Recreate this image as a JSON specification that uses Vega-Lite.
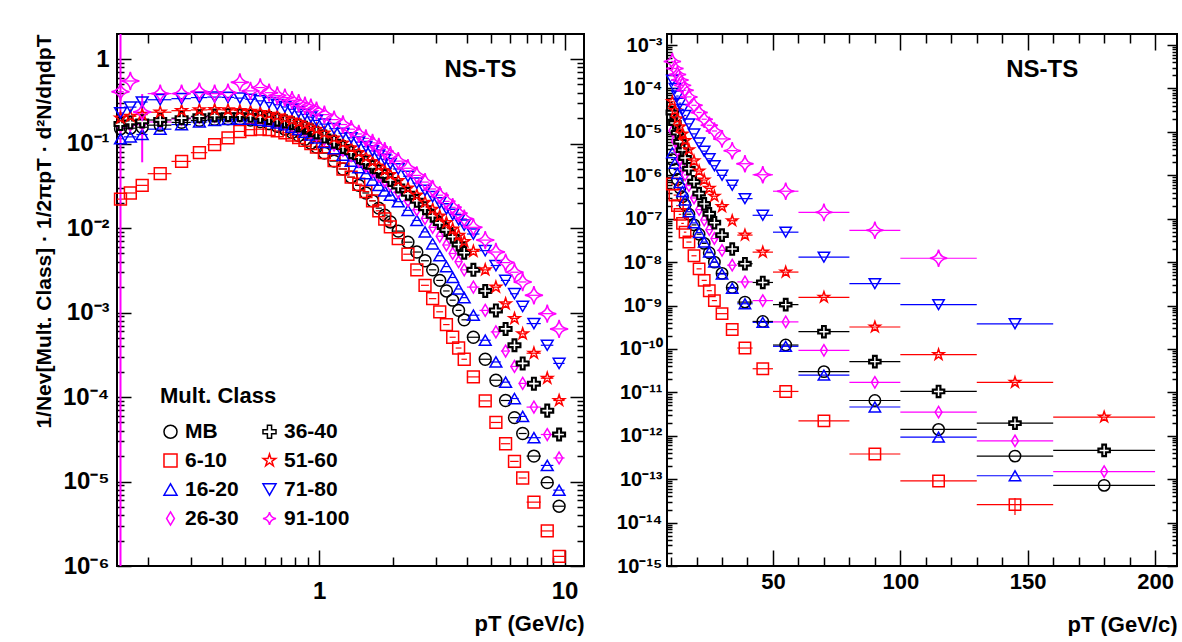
{
"$schema":"https://vega.github.io/schema/vega-lite/v6.json",
"background":"white",
"padding":{"left":32,"top":32,"right":4,"bottom":0},
"config":{
 "view":{"stroke":"black","strokeWidth":2},
 "font":"Liberation Sans",
 "axis":{"domain":false,"grid":false,"tickColor":"black","tickWidth":1.5,"labelColor":"black","titleColor":"black","labelFont":"Liberation Sans","titleFont":"Liberation Sans","labelFontWeight":"bold","titleFontWeight":"bold","labelOverlap":false,"labelFlush":false},
 "legend":{"titleFontSize":22,"titleFont":"Liberation Sans","titleFontWeight":"bold","titleColor":"black","labelFontSize":21,"labelFont":"Liberation Sans","labelFontWeight":"bold","labelColor":"black","symbolSize":170,"symbolStrokeWidth":1.5,"rowPadding":7,"columnPadding":20,"titlePadding":13,"labelOffset":4}
},
"datasets":{
"binsL":[{"x":0.155,"xl":0.15,"xh":0.16},{"x":0.17,"xl":0.16,"xh":0.18},{"x":0.19,"xl":0.18,"xh":0.2},{"x":0.225,"xl":0.2,"xh":0.25},{"x":0.275,"xl":0.25,"xh":0.3},{"x":0.325,"xl":0.3,"xh":0.35},{"x":0.375,"xl":0.35,"xh":0.4},{"x":0.425,"xl":0.4,"xh":0.45},{"x":0.475,"xl":0.45,"xh":0.5},{"x":0.525,"xl":0.5,"xh":0.55},{"x":0.575,"xl":0.55,"xh":0.6},{"x":0.625,"xl":0.6,"xh":0.65},{"x":0.675,"xl":0.65,"xh":0.7},{"x":0.725,"xl":0.7,"xh":0.75},{"x":0.775,"xl":0.75,"xh":0.8},{"x":0.825,"xl":0.8,"xh":0.85},{"x":0.875,"xl":0.85,"xh":0.9},{"x":0.925,"xl":0.9,"xh":0.95},{"x":0.975,"xl":0.95,"xh":1.0},{"x":1.05,"xl":1.0,"xh":1.1},{"x":1.15,"xl":1.1,"xh":1.2},{"x":1.25,"xl":1.2,"xh":1.3},{"x":1.35,"xl":1.3,"xh":1.4},{"x":1.45,"xl":1.4,"xh":1.5},{"x":1.55,"xl":1.5,"xh":1.6},{"x":1.65,"xl":1.6,"xh":1.7},{"x":1.75,"xl":1.7,"xh":1.8},{"x":1.85,"xl":1.8,"xh":1.9},{"x":1.95,"xl":1.9,"xh":2.0},{"x":2.1,"xl":2.0,"xh":2.2},{"x":2.3,"xl":2.2,"xh":2.4},{"x":2.5,"xl":2.4,"xh":2.6},{"x":2.7,"xl":2.6,"xh":2.8},{"x":2.9,"xl":2.8,"xh":3.0},{"x":3.1,"xl":3.0,"xh":3.2},{"x":3.3,"xl":3.2,"xh":3.4},{"x":3.5,"xl":3.4,"xh":3.6},{"x":3.7,"xl":3.6,"xh":3.8},{"x":3.9,"xl":3.8,"xh":4.0},{"x":4.25,"xl":4.0,"xh":4.5},{"x":4.75,"xl":4.5,"xh":5.0},{"x":5.25,"xl":5.0,"xh":5.5},{"x":5.75,"xl":5.5,"xh":6.0},{"x":6.25,"xl":6.0,"xh":6.5},{"x":6.75,"xl":6.5,"xh":7.0},{"x":7.5,"xl":7.0,"xh":8.0},{"x":8.5,"xl":8.0,"xh":9.0},{"x":9.5,"xl":9.0,"xh":10.0}],
"binsR":[{"x":10.5,"xl":10,"xh":11},{"x":11.5,"xl":11,"xh":12},{"x":12.5,"xl":12,"xh":13},{"x":13.5,"xl":13,"xh":14},{"x":14.5,"xl":14,"xh":15},{"x":15.5,"xl":15,"xh":16},{"x":17,"xl":16,"xh":18},{"x":19,"xl":18,"xh":20},{"x":21,"xl":20,"xh":22},{"x":23,"xl":22,"xh":24},{"x":25,"xl":24,"xh":26},{"x":27,"xl":26,"xh":28},{"x":30,"xl":28,"xh":32},{"x":34,"xl":32,"xh":36},{"x":39,"xl":36,"xh":42},{"x":46,"xl":42,"xh":50},{"x":55,"xl":50,"xh":60},{"x":70,"xl":60,"xh":80},{"x":90,"xl":80,"xh":100},{"x":115,"xl":100,"xh":130},{"x":145,"xl":130,"xh":160},{"x":180,"xl":160,"xh":200}],
"errL":[{"s":"91-100","x":0.155,"ylo":0.000001,"yhi":1.98},{"s":"91-100","x":0.19,"ylo":0.06,"yhi":0.385}],
"errR":[{"s":"6-10","x":145,"ylo":1.5e-14,"yhi":3.7e-14}],
"lblL":[{"x":4.54,"y":0.74,"t":"NS-TS"}],
"lblR":[{"x":155.7,"y":0.000265,"t":"NS-TS"}],
"left":[
{"s":"MB","x":0.155,"y":0.150},{"s":"MB","x":0.17,"y":0.152},{"s":"MB","x":0.19,"y":0.156},{"s":"MB","x":0.225,"y":0.165},{"s":"MB","x":0.275,"y":0.178},{"s":"MB","x":0.325,"y":0.188},{"s":"MB","x":0.375,"y":0.194},{"s":"MB","x":0.425,"y":0.196},{"s":"MB","x":0.475,"y":0.195},{"s":"MB","x":0.525,"y":0.190},{"s":"MB","x":0.575,"y":0.182},{"s":"MB","x":0.625,"y":0.172},{"s":"MB","x":0.675,"y":0.160},{"s":"MB","x":0.725,"y":0.148},{"s":"MB","x":0.775,"y":0.136},{"s":"MB","x":0.825,"y":0.124},{"s":"MB","x":0.875,"y":0.112},{"s":"MB","x":0.925,"y":0.101},{"s":"MB","x":0.975,"y":0.091},{"s":"MB","x":1.05,"y":0.077},{"s":"MB","x":1.15,"y":0.062},{"s":"MB","x":1.25,"y":0.050},{"s":"MB","x":1.35,"y":0.040},{"s":"MB","x":1.45,"y":0.032},{"s":"MB","x":1.55,"y":0.026},{"s":"MB","x":1.65,"y":0.021},{"s":"MB","x":1.75,"y":0.0172},{"s":"MB","x":1.85,"y":0.0142},{"s":"MB","x":1.95,"y":0.0118},{"s":"MB","x":2.1,"y":0.0092},{"s":"MB","x":2.3,"y":0.0068},{"s":"MB","x":2.5,"y":0.0052},{"s":"MB","x":2.7,"y":0.0041},{"s":"MB","x":2.9,"y":0.0032},{"s":"MB","x":3.1,"y":0.0024},{"s":"MB","x":3.3,"y":0.0018},{"s":"MB","x":3.5,"y":0.0014},{"s":"MB","x":3.7,"y":0.00106},{"s":"MB","x":3.9,"y":0.00082},{"s":"MB","x":4.25,"y":0.00051},{"s":"MB","x":4.75,"y":0.00028},{"s":"MB","x":5.25,"y":0.000158},{"s":"MB","x":5.75,"y":0.000091},{"s":"MB","x":6.25,"y":0.000057},{"s":"MB","x":6.75,"y":0.000037},{"s":"MB","x":7.5,"y":0.00002},{"s":"MB","x":8.5,"y":0.0000097},{"s":"MB","x":9.5,"y":0.0000051},
{"s":"6-10","x":0.155,"y":0.022},{"s":"6-10","x":0.17,"y":0.026},{"s":"6-10","x":0.19,"y":0.032},{"s":"6-10","x":0.225,"y":0.044},{"s":"6-10","x":0.275,"y":0.0615},{"s":"6-10","x":0.325,"y":0.078},{"s":"6-10","x":0.375,"y":0.097},{"s":"6-10","x":0.425,"y":0.117},{"s":"6-10","x":0.475,"y":0.139},{"s":"6-10","x":0.525,"y":0.146},{"s":"6-10","x":0.575,"y":0.148},{"s":"6-10","x":0.625,"y":0.146},{"s":"6-10","x":0.675,"y":0.141},{"s":"6-10","x":0.725,"y":0.134},{"s":"6-10","x":0.775,"y":0.126},{"s":"6-10","x":0.825,"y":0.118},{"s":"6-10","x":0.875,"y":0.109},{"s":"6-10","x":0.925,"y":0.100},{"s":"6-10","x":0.975,"y":0.091},{"s":"6-10","x":1.05,"y":0.078},{"s":"6-10","x":1.15,"y":0.063},{"s":"6-10","x":1.25,"y":0.050},{"s":"6-10","x":1.35,"y":0.040},{"s":"6-10","x":1.45,"y":0.033},{"s":"6-10","x":1.55,"y":0.027},{"s":"6-10","x":1.65,"y":0.021},{"s":"6-10","x":1.75,"y":0.016},{"s":"6-10","x":1.85,"y":0.0128},{"s":"6-10","x":1.95,"y":0.0103},{"s":"6-10","x":2.1,"y":0.0075},{"s":"6-10","x":2.3,"y":0.0049},{"s":"6-10","x":2.5,"y":0.0032},{"s":"6-10","x":2.7,"y":0.0021},{"s":"6-10","x":2.9,"y":0.00146},{"s":"6-10","x":3.1,"y":0.00102},{"s":"6-10","x":3.3,"y":0.00072},{"s":"6-10","x":3.5,"y":0.00051},{"s":"6-10","x":3.7,"y":0.00038},{"s":"6-10","x":3.9,"y":0.00028},{"s":"6-10","x":4.25,"y":0.000173},{"s":"6-10","x":4.75,"y":0.00009},{"s":"6-10","x":5.25,"y":0.00005},{"s":"6-10","x":5.75,"y":0.000028},{"s":"6-10","x":6.25,"y":0.0000173},{"s":"6-10","x":6.75,"y":0.000011},{"s":"6-10","x":7.5,"y":0.0000057},{"s":"6-10","x":8.5,"y":0.0000026},{"s":"6-10","x":9.5,"y":0.0000013},
{"s":"16-20","x":0.155,"y":0.114},{"s":"16-20","x":0.17,"y":0.120},{"s":"16-20","x":0.19,"y":0.128},{"s":"16-20","x":0.225,"y":0.148},{"s":"16-20","x":0.275,"y":0.168},{"s":"16-20","x":0.325,"y":0.180},{"s":"16-20","x":0.375,"y":0.188},{"s":"16-20","x":0.425,"y":0.193},{"s":"16-20","x":0.475,"y":0.195},{"s":"16-20","x":0.525,"y":0.194},{"s":"16-20","x":0.575,"y":0.190},{"s":"16-20","x":0.625,"y":0.184},{"s":"16-20","x":0.675,"y":0.176},{"s":"16-20","x":0.725,"y":0.167},{"s":"16-20","x":0.775,"y":0.157},{"s":"16-20","x":0.825,"y":0.147},{"s":"16-20","x":0.875,"y":0.137},{"s":"16-20","x":0.925,"y":0.127},{"s":"16-20","x":0.975,"y":0.117},{"s":"16-20","x":1.05,"y":0.103},{"s":"16-20","x":1.15,"y":0.087},{"s":"16-20","x":1.25,"y":0.073},{"s":"16-20","x":1.35,"y":0.062},{"s":"16-20","x":1.45,"y":0.052},{"s":"16-20","x":1.55,"y":0.044},{"s":"16-20","x":1.65,"y":0.037},{"s":"16-20","x":1.75,"y":0.032},{"s":"16-20","x":1.85,"y":0.0275},{"s":"16-20","x":1.95,"y":0.0245},{"s":"16-20","x":2.1,"y":0.0205},{"s":"16-20","x":2.3,"y":0.0162},{"s":"16-20","x":2.5,"y":0.0123},{"s":"16-20","x":2.7,"y":0.009},{"s":"16-20","x":2.9,"y":0.0065},{"s":"16-20","x":3.1,"y":0.0047},{"s":"16-20","x":3.3,"y":0.0035},{"s":"16-20","x":3.5,"y":0.0026},{"s":"16-20","x":3.7,"y":0.0019},{"s":"16-20","x":3.9,"y":0.0015},{"s":"16-20","x":4.25,"y":0.00093},{"s":"16-20","x":4.75,"y":0.00047},{"s":"16-20","x":5.25,"y":0.00026},{"s":"16-20","x":5.75,"y":0.00015},{"s":"16-20","x":6.25,"y":0.000096},{"s":"16-20","x":6.75,"y":0.000059},{"s":"16-20","x":7.5,"y":0.000033},{"s":"16-20","x":8.5,"y":0.0000155},{"s":"16-20","x":9.5,"y":0.0000079},
{"s":"26-30","x":0.155,"y":0.160},{"s":"26-30","x":0.17,"y":0.165},{"s":"26-30","x":0.19,"y":0.170},{"s":"26-30","x":0.225,"y":0.180},{"s":"26-30","x":0.275,"y":0.195},{"s":"26-30","x":0.325,"y":0.205},{"s":"26-30","x":0.375,"y":0.210},{"s":"26-30","x":0.425,"y":0.212},{"s":"26-30","x":0.475,"y":0.211},{"s":"26-30","x":0.525,"y":0.207},{"s":"26-30","x":0.575,"y":0.201},{"s":"26-30","x":0.625,"y":0.194},{"s":"26-30","x":0.675,"y":0.185},{"s":"26-30","x":0.725,"y":0.176},{"s":"26-30","x":0.775,"y":0.166},{"s":"26-30","x":0.825,"y":0.156},{"s":"26-30","x":0.875,"y":0.146},{"s":"26-30","x":0.925,"y":0.136},{"s":"26-30","x":0.975,"y":0.126},{"s":"26-30","x":1.05,"y":0.112},{"s":"26-30","x":1.15,"y":0.096},{"s":"26-30","x":1.25,"y":0.083},{"s":"26-30","x":1.35,"y":0.072},{"s":"26-30","x":1.45,"y":0.062},{"s":"26-30","x":1.55,"y":0.054},{"s":"26-30","x":1.65,"y":0.047},{"s":"26-30","x":1.75,"y":0.041},{"s":"26-30","x":1.85,"y":0.036},{"s":"26-30","x":1.95,"y":0.032},{"s":"26-30","x":2.1,"y":0.0265},{"s":"26-30","x":2.3,"y":0.021},{"s":"26-30","x":2.5,"y":0.0165},{"s":"26-30","x":2.7,"y":0.013},{"s":"26-30","x":2.9,"y":0.0102},{"s":"26-30","x":3.1,"y":0.008},{"s":"26-30","x":3.3,"y":0.0063},{"s":"26-30","x":3.5,"y":0.005},{"s":"26-30","x":3.7,"y":0.004},{"s":"26-30","x":3.9,"y":0.0032},{"s":"26-30","x":4.25,"y":0.002},{"s":"26-30","x":4.75,"y":0.00106},{"s":"26-30","x":5.25,"y":0.00059},{"s":"26-30","x":5.75,"y":0.00035},{"s":"26-30","x":6.25,"y":0.00023},{"s":"26-30","x":6.75,"y":0.000145},{"s":"26-30","x":7.5,"y":0.000076},{"s":"26-30","x":8.5,"y":0.000036},{"s":"26-30","x":9.5,"y":0.000019},
{"s":"36-40","x":0.155,"y":0.170},{"s":"36-40","x":0.17,"y":0.178},{"s":"36-40","x":0.19,"y":0.183},{"s":"36-40","x":0.225,"y":0.190},{"s":"36-40","x":0.275,"y":0.200},{"s":"36-40","x":0.325,"y":0.210},{"s":"36-40","x":0.375,"y":0.215},{"s":"36-40","x":0.425,"y":0.217},{"s":"36-40","x":0.475,"y":0.216},{"s":"36-40","x":0.525,"y":0.213},{"s":"36-40","x":0.575,"y":0.207},{"s":"36-40","x":0.625,"y":0.200},{"s":"36-40","x":0.675,"y":0.192},{"s":"36-40","x":0.725,"y":0.183},{"s":"36-40","x":0.775,"y":0.174},{"s":"36-40","x":0.825,"y":0.164},{"s":"36-40","x":0.875,"y":0.154},{"s":"36-40","x":0.925,"y":0.144},{"s":"36-40","x":0.975,"y":0.135},{"s":"36-40","x":1.05,"y":0.121},{"s":"36-40","x":1.15,"y":0.105},{"s":"36-40","x":1.25,"y":0.091},{"s":"36-40","x":1.35,"y":0.079},{"s":"36-40","x":1.45,"y":0.069},{"s":"36-40","x":1.55,"y":0.060},{"s":"36-40","x":1.65,"y":0.053},{"s":"36-40","x":1.75,"y":0.047},{"s":"36-40","x":1.85,"y":0.0415},{"s":"36-40","x":1.95,"y":0.037},{"s":"36-40","x":2.1,"y":0.031},{"s":"36-40","x":2.3,"y":0.0255},{"s":"36-40","x":2.5,"y":0.021},{"s":"36-40","x":2.7,"y":0.0172},{"s":"36-40","x":2.9,"y":0.014},{"s":"36-40","x":3.1,"y":0.0115},{"s":"36-40","x":3.3,"y":0.0095},{"s":"36-40","x":3.5,"y":0.0079},{"s":"36-40","x":3.7,"y":0.0064},{"s":"36-40","x":3.9,"y":0.0051},{"s":"36-40","x":4.25,"y":0.0032},{"s":"36-40","x":4.75,"y":0.0018},{"s":"36-40","x":5.25,"y":0.00106},{"s":"36-40","x":5.75,"y":0.00064},{"s":"36-40","x":6.25,"y":0.00041},{"s":"36-40","x":6.75,"y":0.00025},{"s":"36-40","x":7.5,"y":0.000144},{"s":"36-40","x":8.5,"y":0.000069},{"s":"36-40","x":9.5,"y":0.000036},
{"s":"51-60","x":0.155,"y":0.200},{"s":"51-60","x":0.17,"y":0.210},{"s":"51-60","x":0.19,"y":0.220},{"s":"51-60","x":0.225,"y":0.235},{"s":"51-60","x":0.275,"y":0.245},{"s":"51-60","x":0.325,"y":0.250},{"s":"51-60","x":0.375,"y":0.252},{"s":"51-60","x":0.425,"y":0.250},{"s":"51-60","x":0.475,"y":0.246},{"s":"51-60","x":0.525,"y":0.240},{"s":"51-60","x":0.575,"y":0.232},{"s":"51-60","x":0.625,"y":0.222},{"s":"51-60","x":0.675,"y":0.211},{"s":"51-60","x":0.725,"y":0.200},{"s":"51-60","x":0.775,"y":0.189},{"s":"51-60","x":0.825,"y":0.178},{"s":"51-60","x":0.875,"y":0.167},{"s":"51-60","x":0.925,"y":0.157},{"s":"51-60","x":0.975,"y":0.147},{"s":"51-60","x":1.05,"y":0.133},{"s":"51-60","x":1.15,"y":0.116},{"s":"51-60","x":1.25,"y":0.101},{"s":"51-60","x":1.35,"y":0.089},{"s":"51-60","x":1.45,"y":0.078},{"s":"51-60","x":1.55,"y":0.069},{"s":"51-60","x":1.65,"y":0.061},{"s":"51-60","x":1.75,"y":0.054},{"s":"51-60","x":1.85,"y":0.048},{"s":"51-60","x":1.95,"y":0.043},{"s":"51-60","x":2.1,"y":0.0365},{"s":"51-60","x":2.3,"y":0.0298},{"s":"51-60","x":2.5,"y":0.0245},{"s":"51-60","x":2.7,"y":0.0202},{"s":"51-60","x":2.9,"y":0.0167},{"s":"51-60","x":3.1,"y":0.0139},{"s":"51-60","x":3.3,"y":0.0116},{"s":"51-60","x":3.5,"y":0.0097},{"s":"51-60","x":3.7,"y":0.0082},{"s":"51-60","x":3.9,"y":0.0069},{"s":"51-60","x":4.25,"y":0.0053},{"s":"51-60","x":4.75,"y":0.0032},{"s":"51-60","x":5.25,"y":0.002},{"s":"51-60","x":5.75,"y":0.00127},{"s":"51-60","x":6.25,"y":0.00085},{"s":"51-60","x":6.75,"y":0.00056},{"s":"51-60","x":7.5,"y":0.00033},{"s":"51-60","x":8.5,"y":0.000167},{"s":"51-60","x":9.5,"y":0.000091},
{"s":"71-80","x":0.155,"y":0.230},{"s":"71-80","x":0.17,"y":0.270},{"s":"71-80","x":0.19,"y":0.310},{"s":"71-80","x":0.225,"y":0.330},{"s":"71-80","x":0.275,"y":0.340},{"s":"71-80","x":0.325,"y":0.350},{"s":"71-80","x":0.375,"y":0.355},{"s":"71-80","x":0.425,"y":0.352},{"s":"71-80","x":0.475,"y":0.345},{"s":"71-80","x":0.525,"y":0.334},{"s":"71-80","x":0.575,"y":0.320},{"s":"71-80","x":0.625,"y":0.305},{"s":"71-80","x":0.675,"y":0.288},{"s":"71-80","x":0.725,"y":0.271},{"s":"71-80","x":0.775,"y":0.254},{"s":"71-80","x":0.825,"y":0.237},{"s":"71-80","x":0.875,"y":0.221},{"s":"71-80","x":0.925,"y":0.206},{"s":"71-80","x":0.975,"y":0.188},{"s":"71-80","x":1.05,"y":0.170},{"s":"71-80","x":1.15,"y":0.150},{"s":"71-80","x":1.25,"y":0.132},{"s":"71-80","x":1.35,"y":0.117},{"s":"71-80","x":1.45,"y":0.104},{"s":"71-80","x":1.55,"y":0.092},{"s":"71-80","x":1.65,"y":0.082},{"s":"71-80","x":1.75,"y":0.073},{"s":"71-80","x":1.85,"y":0.065},{"s":"71-80","x":1.95,"y":0.058},{"s":"71-80","x":2.1,"y":0.050},{"s":"71-80","x":2.3,"y":0.041},{"s":"71-80","x":2.5,"y":0.034},{"s":"71-80","x":2.7,"y":0.028},{"s":"71-80","x":2.9,"y":0.0235},{"s":"71-80","x":3.1,"y":0.0198},{"s":"71-80","x":3.3,"y":0.0169},{"s":"71-80","x":3.5,"y":0.0145},{"s":"71-80","x":3.7,"y":0.0125},{"s":"71-80","x":3.9,"y":0.0108},{"s":"71-80","x":4.25,"y":0.0085},{"s":"71-80","x":4.75,"y":0.0054},{"s":"71-80","x":5.25,"y":0.0036},{"s":"71-80","x":5.75,"y":0.0024},{"s":"71-80","x":6.25,"y":0.00167},{"s":"71-80","x":6.75,"y":0.00118},{"s":"71-80","x":7.5,"y":0.00074},{"s":"71-80","x":8.5,"y":0.00041},{"s":"71-80","x":9.5,"y":0.00025},
{"s":"91-100","x":0.155,"y":0.41},{"s":"91-100","x":0.17,"y":0.55},{"s":"91-100","x":0.19,"y":0.236},{"s":"91-100","x":0.225,"y":0.39},{"s":"91-100","x":0.275,"y":0.39},{"s":"91-100","x":0.325,"y":0.41},{"s":"91-100","x":0.375,"y":0.39},{"s":"91-100","x":0.425,"y":0.40},{"s":"91-100","x":0.475,"y":0.53},{"s":"91-100","x":0.525,"y":0.42},{"s":"91-100","x":0.575,"y":0.46},{"s":"91-100","x":0.625,"y":0.40},{"s":"91-100","x":0.675,"y":0.37},{"s":"91-100","x":0.725,"y":0.35},{"s":"91-100","x":0.775,"y":0.325},{"s":"91-100","x":0.825,"y":0.30},{"s":"91-100","x":0.875,"y":0.28},{"s":"91-100","x":0.925,"y":0.265},{"s":"91-100","x":0.975,"y":0.245},{"s":"91-100","x":1.05,"y":0.22},{"s":"91-100","x":1.15,"y":0.192},{"s":"91-100","x":1.25,"y":0.168},{"s":"91-100","x":1.35,"y":0.148},{"s":"91-100","x":1.45,"y":0.13},{"s":"91-100","x":1.55,"y":0.115},{"s":"91-100","x":1.65,"y":0.102},{"s":"91-100","x":1.75,"y":0.091},{"s":"91-100","x":1.85,"y":0.081},{"s":"91-100","x":1.95,"y":0.073},{"s":"91-100","x":2.1,"y":0.062},{"s":"91-100","x":2.3,"y":0.051},{"s":"91-100","x":2.5,"y":0.042},{"s":"91-100","x":2.7,"y":0.035},{"s":"91-100","x":2.9,"y":0.029},{"s":"91-100","x":3.1,"y":0.0245},{"s":"91-100","x":3.3,"y":0.0207},{"s":"91-100","x":3.5,"y":0.0176},{"s":"91-100","x":3.7,"y":0.015},{"s":"91-100","x":3.9,"y":0.0129},{"s":"91-100","x":4.25,"y":0.0102},{"s":"91-100","x":4.75,"y":0.0072},{"s":"91-100","x":5.25,"y":0.0052},{"s":"91-100","x":5.75,"y":0.0039},{"s":"91-100","x":6.25,"y":0.003},{"s":"91-100","x":6.75,"y":0.0023},{"s":"91-100","x":7.5,"y":0.0016},{"s":"91-100","x":8.5,"y":0.00097},{"s":"91-100","x":9.5,"y":0.00064}
],
"right":[
{"s":"MB","x":10.5,"y":2.3e-6},{"s":"MB","x":11.5,"y":1.35e-6},{"s":"MB","x":12.5,"y":8.0e-7},{"s":"MB","x":13.5,"y":5.1e-7},{"s":"MB","x":14.5,"y":3.2e-7},{"s":"MB","x":15.5,"y":2.1e-7},{"s":"MB","x":17,"y":1.27e-7},{"s":"MB","x":19,"y":7.2e-8},{"s":"MB","x":21,"y":4.4e-8},{"s":"MB","x":23,"y":2.7e-8},{"s":"MB","x":25,"y":1.65e-8},{"s":"MB","x":27,"y":1.0e-8},{"s":"MB","x":30,"y":5.5e-9},{"s":"MB","x":34,"y":2.6e-9},{"s":"MB","x":39,"y":1.2e-9},{"s":"MB","x":46,"y":4.3e-10},{"s":"MB","x":55,"y":1.23e-10},{"s":"MB","x":70,"y":3.0e-11},{"s":"MB","x":90,"y":6.5e-12},{"s":"MB","x":115,"y":1.4e-12},{"s":"MB","x":145,"y":3.4e-13},{"s":"MB","x":180,"y":7.2e-14},
{"s":"6-10","x":10.5,"y":6.3e-7},{"s":"6-10","x":11.5,"y":3.5e-7},{"s":"6-10","x":12.5,"y":2.0e-7},{"s":"6-10","x":13.5,"y":1.26e-7},{"s":"6-10","x":14.5,"y":7.8e-8},{"s":"6-10","x":15.5,"y":4.9e-8},{"s":"6-10","x":17,"y":2.9e-8},{"s":"6-10","x":19,"y":1.4e-8},{"s":"6-10","x":21,"y":7.0e-9},{"s":"6-10","x":23,"y":3.8e-9},{"s":"6-10","x":25,"y":2.2e-9},{"s":"6-10","x":27,"y":1.3e-9},{"s":"6-10","x":30,"y":6.5e-10},{"s":"6-10","x":34,"y":2.8e-10},{"s":"6-10","x":39,"y":1.05e-10},{"s":"6-10","x":46,"y":3.5e-11},{"s":"6-10","x":55,"y":1.05e-11},{"s":"6-10","x":70,"y":2.2e-12},{"s":"6-10","x":90,"y":3.8e-13},{"s":"6-10","x":115,"y":9.1e-14},{"s":"6-10","x":145,"y":2.6e-14},
{"s":"16-20","x":10.5,"y":3.3e-6},{"s":"16-20","x":11.5,"y":1.9e-6},{"s":"16-20","x":12.5,"y":1.1e-6},{"s":"16-20","x":13.5,"y":6.8e-7},{"s":"16-20","x":14.5,"y":4.2e-7},{"s":"16-20","x":15.5,"y":2.7e-7},{"s":"16-20","x":17,"y":1.45e-7},{"s":"16-20","x":19,"y":8.0e-8},{"s":"16-20","x":21,"y":4.8e-8},{"s":"16-20","x":23,"y":2.9e-8},{"s":"16-20","x":25,"y":1.7e-8},{"s":"16-20","x":27,"y":1.0e-8},{"s":"16-20","x":30,"y":5.3e-9},{"s":"16-20","x":34,"y":2.5e-9},{"s":"16-20","x":39,"y":1.1e-9},{"s":"16-20","x":46,"y":4.1e-10},{"s":"16-20","x":55,"y":1.15e-10},{"s":"16-20","x":70,"y":2.5e-11},{"s":"16-20","x":90,"y":4.6e-12},{"s":"16-20","x":115,"y":9.3e-13},{"s":"16-20","x":145,"y":1.2e-13},
{"s":"26-30","x":10.5,"y":1.07e-5},{"s":"26-30","x":11.5,"y":6.2e-6},{"s":"26-30","x":12.5,"y":3.7e-6},{"s":"26-30","x":13.5,"y":2.35e-6},{"s":"26-30","x":14.5,"y":1.52e-6},{"s":"26-30","x":15.5,"y":1.02e-6},{"s":"26-30","x":17,"y":5.8e-7},{"s":"26-30","x":19,"y":3.0e-7},{"s":"26-30","x":21,"y":1.62e-7},{"s":"26-30","x":23,"y":9.3e-8},{"s":"26-30","x":25,"y":5.6e-8},{"s":"26-30","x":27,"y":3.5e-8},{"s":"26-30","x":30,"y":1.87e-8},{"s":"26-30","x":34,"y":8.5e-9},{"s":"26-30","x":39,"y":3.5e-9},{"s":"26-30","x":46,"y":1.3e-9},{"s":"26-30","x":55,"y":4.2e-10},{"s":"26-30","x":70,"y":9.3e-11},{"s":"26-30","x":90,"y":1.7e-11},{"s":"26-30","x":115,"y":3.5e-12},{"s":"26-30","x":145,"y":7.6e-13},{"s":"26-30","x":180,"y":1.5e-13},
{"s":"36-40","x":10.5,"y":2.8e-5},{"s":"36-40","x":11.5,"y":1.6e-5},{"s":"36-40","x":12.5,"y":9.6e-6},{"s":"36-40","x":13.5,"y":5.9e-6},{"s":"36-40","x":14.5,"y":3.8e-6},{"s":"36-40","x":15.5,"y":2.5e-6},{"s":"36-40","x":17,"y":1.42e-6},{"s":"36-40","x":19,"y":7.1e-7},{"s":"36-40","x":21,"y":3.8e-7},{"s":"36-40","x":23,"y":2.2e-7},{"s":"36-40","x":25,"y":1.3e-7},{"s":"36-40","x":27,"y":8.1e-8},{"s":"36-40","x":30,"y":4.2e-8},{"s":"36-40","x":34,"y":2.0e-8},{"s":"36-40","x":39,"y":9.2e-9},{"s":"36-40","x":46,"y":3.4e-9},{"s":"36-40","x":55,"y":1.05e-9},{"s":"36-40","x":70,"y":2.5e-10},{"s":"36-40","x":90,"y":5.1e-11},{"s":"36-40","x":115,"y":1.05e-11},{"s":"36-40","x":145,"y":1.95e-12},{"s":"36-40","x":180,"y":4.6e-13},
{"s":"51-60","x":10.5,"y":5.0e-5},{"s":"51-60","x":11.5,"y":3.1e-5},{"s":"51-60","x":12.5,"y":2.0e-5},{"s":"51-60","x":13.5,"y":1.32e-5},{"s":"51-60","x":14.5,"y":9.0e-6},{"s":"51-60","x":15.5,"y":6.3e-6},{"s":"51-60","x":17,"y":3.9e-6},{"s":"51-60","x":19,"y":2.15e-6},{"s":"51-60","x":21,"y":1.26e-6},{"s":"51-60","x":23,"y":7.8e-7},{"s":"51-60","x":25,"y":5.0e-7},{"s":"51-60","x":27,"y":3.3e-7},{"s":"51-60","x":30,"y":1.9e-7},{"s":"51-60","x":34,"y":9.0e-8},{"s":"51-60","x":39,"y":4.2e-8},{"s":"51-60","x":46,"y":1.7e-8},{"s":"51-60","x":55,"y":5.9e-9},{"s":"51-60","x":70,"y":1.55e-9},{"s":"51-60","x":90,"y":3.2e-10},{"s":"51-60","x":115,"y":7.4e-11},{"s":"51-60","x":145,"y":1.7e-11},{"s":"51-60","x":180,"y":2.7e-12},
{"s":"71-80","x":10.5,"y":1.55e-4},{"s":"71-80","x":11.5,"y":1.0e-4},{"s":"71-80","x":12.5,"y":6.7e-5},{"s":"71-80","x":13.5,"y":4.6e-5},{"s":"71-80","x":14.5,"y":3.3e-5},{"s":"71-80","x":15.5,"y":2.4e-5},{"s":"71-80","x":17,"y":1.53e-5},{"s":"71-80","x":19,"y":9.0e-6},{"s":"71-80","x":21,"y":5.6e-6},{"s":"71-80","x":23,"y":3.6e-6},{"s":"71-80","x":25,"y":2.4e-6},{"s":"71-80","x":27,"y":1.66e-6},{"s":"71-80","x":30,"y":1.0e-6},{"s":"71-80","x":34,"y":5.9e-7},{"s":"71-80","x":39,"y":2.9e-7},{"s":"71-80","x":46,"y":1.2e-7},{"s":"71-80","x":55,"y":4.9e-8},{"s":"71-80","x":70,"y":1.3e-8},{"s":"71-80","x":90,"y":3.2e-9},{"s":"71-80","x":115,"y":1.05e-9},{"s":"71-80","x":145,"y":3.8e-10},
{"s":"91-100","x":10.5,"y":4.2e-4},{"s":"91-100","x":11.5,"y":2.9e-4},{"s":"91-100","x":12.5,"y":2.1e-4},{"s":"91-100","x":13.5,"y":1.57e-4},{"s":"91-100","x":14.5,"y":1.18e-4},{"s":"91-100","x":15.5,"y":9.1e-5},{"s":"91-100","x":17,"y":6.4e-5},{"s":"91-100","x":19,"y":4.1e-5},{"s":"91-100","x":21,"y":2.8e-5},{"s":"91-100","x":23,"y":1.96e-5},{"s":"91-100","x":25,"y":1.42e-5},{"s":"91-100","x":27,"y":1.05e-5},{"s":"91-100","x":30,"y":6.9e-6},{"s":"91-100","x":34,"y":3.7e-6},{"s":"91-100","x":39,"y":1.85e-6},{"s":"91-100","x":46,"y":1.03e-6},{"s":"91-100","x":55,"y":4.3e-7},{"s":"91-100","x":70,"y":1.4e-7},{"s":"91-100","x":90,"y":5.4e-8},{"s":"91-100","x":115,"y":1.23e-8}
]
},
"spacing":29,
"resolve":{"scale":{"color":"independent","shape":"independent"}},
"hconcat":[
{
 "width":467,"height":532,
 "resolve":{"axis":{"x":"independent","y":"independent"}},
 "layer":[
  {"data":{"name":"left"},
   "transform":[{"lookup":"x","from":{"data":{"name":"binsL"},"key":"x","fields":["xl","xh"]}}],
   "mark":{"type":"rule","strokeWidth":1.2},
   "encoding":{
    "x":{"field":"xl","type":"quantitative","scale":{"type":"log","domain":[0.15,12],"nice":false},"axis":null},
    "x2":{"field":"xh"},
    "y":{"field":"y","type":"quantitative","scale":{"type":"log","domain":[0.000001,1.98],"nice":false},"axis":null},
    "stroke":{"field":"s","type":"nominal","scale":{"domain":["MB","6-10","16-20","26-30","36-40","51-60","71-80","91-100"],"range":["#000000","#ff0000","#0000ff","#ff00ff","#000000","#ff0000","#0000ff","#ff00ff"]},"legend":null}
   }},
  {"data":{"name":"errL"},
   "mark":{"type":"rule","strokeWidth":2,"clip":true},
   "encoding":{
    "x":{"field":"x","type":"quantitative","scale":{"type":"log","domain":[0.15,12],"nice":false},"axis":null},
    "y":{"field":"ylo","type":"quantitative","scale":{"type":"log","domain":[0.000001,1.98],"nice":false},"axis":null},
    "y2":{"field":"yhi"},
    "stroke":{"field":"s","type":"nominal","scale":{"domain":["MB","6-10","16-20","26-30","36-40","51-60","71-80","91-100"],"range":["#000000","#ff0000","#0000ff","#ff00ff","#000000","#ff0000","#0000ff","#ff00ff"]},"legend":null}
   }},
  {"data":{"name":"left"},
   "mark":{"type":"point","filled":false,"opacity":1},
   "encoding":{
    "x":{"field":"x","type":"quantitative","scale":{"type":"log","domain":[0.15,12],"nice":false},
      "axis":{"orient":"bottom","values":[0.2,0.3,0.4,0.5,0.6,0.7,0.8,0.9,1,2,3,4,5,6,7,8,9,10],"labelExpr":"datum.value == 1 ? '1' : (datum.value == 10 ? '10' : '')","labelFontSize":24,"tickSize":{"condition":{"test":"datum.value == 1 || datum.value == 10","value":-16},"value":-9},"labelPadding":29,"title":"pT (GeV/c)","titleFontSize":22,"titleAnchor":"end","titlePadding":3}},
    "y":{"field":"y","type":"quantitative","scale":{"type":"log","domain":[0.000001,1.98],"nice":false},
      "axis":{"orient":"left","tickCount":20,"labelExpr":"abs(log(datum.value)/LN10 - round(log(datum.value)/LN10)) > 0.01 ? '' : (round(log(datum.value)/LN10) == 0 ? '1' : '10⁻' + (round(log(datum.value)/LN10) <= -10 ? '¹' : '') + ['⁰','¹','²','³','⁴','⁵','⁶','⁷','⁸','⁹'][(-round(log(datum.value)/LN10)) % 10])","labelFontSize":24,"tickSize":{"condition":{"test":"abs(log(datum.value)/LN10 - round(log(datum.value)/LN10)) < 0.01","value":-14},"value":-7},"labelPadding":22,"title":"1/Nev[Mult. Class]  ·  1/2πpT  ·  d²N/dηdpT","titleFontSize":21,"titleAnchor":"end","titlePadding":8}},
    "color":{"field":"s","type":"nominal","scale":{"domain":["MB","6-10","16-20","26-30","36-40","51-60","71-80","91-100"],"range":["#000000","#ff0000","#0000ff","#ff00ff","#000000","#ff0000","#0000ff","#ff00ff"]},
      "legend":{"title":"\u00a0\u00a0\u00a0Mult. Class","orient":"none","legendX":43,"legendY":352,"columns":2}},
    "shape":{"field":"s","type":"nominal","scale":{"domain":["MB","6-10","16-20","26-30","36-40","51-60","71-80","91-100"],"range":["circle","square","triangle-up","M0,-1L0.6,0L0,1L-0.6,0Z","M-0.32,-1H0.32V-0.32H1V0.32H0.32V1H-0.32V0.32H-1V-0.32H-0.32Z","M0,-1L0.225,-0.309L0.951,-0.309L0.363,0.118L0.588,0.809L0,0.382L-0.588,0.809L-0.363,0.118L-0.951,-0.309L-0.225,-0.309Z","triangle-down","M0,-1Q0.12,-0.12 1,0Q0.12,0.12 0,1Q-0.12,0.12 -1,0Q-0.12,-0.12 0,-1Z"]},
      "legend":{"title":"\u00a0\u00a0\u00a0Mult. Class","orient":"none","legendX":43,"legendY":352,"columns":2}},
    "size":{"condition":{"test":"datum.s === '91-100'","value":330},"value":140},
    "strokeWidth":{"condition":{"test":"datum.s === '36-40'","value":2.2},"value":1.5},
    "fill":{"condition":{"test":"datum.s === '36-40'","value":"white"},"value":"transparent"}
   }},
  {"data":{"name":"lblL"},
   "mark":{"type":"text","fontSize":24,"fontWeight":"bold","font":"Liberation Sans","color":"black","align":"center","baseline":"middle"},
   "encoding":{
    "x":{"field":"x","type":"quantitative","scale":{"type":"log","domain":[0.15,12],"nice":false},
      "axis":{"orient":"top","values":[0.2,0.3,0.4,0.5,0.6,0.7,0.8,0.9,1,2,3,4,5,6,7,8,9,10],"labels":false,"title":null,"tickSize":{"condition":{"test":"datum.value == 1 || datum.value == 10","value":-16},"value":-9}}},
    "y":{"field":"y","type":"quantitative","scale":{"type":"log","domain":[0.000001,1.98],"nice":false},
      "axis":{"orient":"right","tickCount":20,"labels":false,"title":null,"tickSize":{"condition":{"test":"abs(log(datum.value)/LN10 - round(log(datum.value)/LN10)) < 0.01","value":-14},"value":-7}}},
    "text":{"field":"t"}
   }}
 ]
},
{
 "width":510,"height":532,
 "resolve":{"axis":{"x":"independent","y":"independent"}},
 "layer":[
  {"data":{"name":"right"},
   "transform":[{"lookup":"x","from":{"data":{"name":"binsR"},"key":"x","fields":["xl","xh"]}}],
   "mark":{"type":"rule","strokeWidth":1.2},
   "encoding":{
    "x":{"field":"xl","type":"quantitative","scale":{"type":"linear","domain":[8.4,208.6],"nice":false,"zero":false},"axis":null},
    "x2":{"field":"xh"},
    "y":{"field":"y","type":"quantitative","scale":{"type":"log","domain":[1e-15,0.0018],"nice":false},"axis":null},
    "stroke":{"field":"s","type":"nominal","scale":{"domain":["MB","6-10","16-20","26-30","36-40","51-60","71-80","91-100"],"range":["#000000","#ff0000","#0000ff","#ff00ff","#000000","#ff0000","#0000ff","#ff00ff"]},"legend":null}
   }},
  {"data":{"name":"errR"},
   "mark":{"type":"rule","strokeWidth":1.2,"clip":true},
   "encoding":{
    "x":{"field":"x","type":"quantitative","scale":{"type":"linear","domain":[8.4,208.6],"nice":false,"zero":false},"axis":null},
    "y":{"field":"ylo","type":"quantitative","scale":{"type":"log","domain":[1e-15,0.0018],"nice":false},"axis":null},
    "y2":{"field":"yhi"},
    "stroke":{"field":"s","type":"nominal","scale":{"domain":["MB","6-10","16-20","26-30","36-40","51-60","71-80","91-100"],"range":["#000000","#ff0000","#0000ff","#ff00ff","#000000","#ff0000","#0000ff","#ff00ff"]},"legend":null}
   }},
  {"data":{"name":"right"},
   "mark":{"type":"point","filled":false,"opacity":1},
   "encoding":{
    "x":{"field":"x","type":"quantitative","scale":{"type":"linear","domain":[8.4,208.6],"nice":false,"zero":false},
      "axis":{"orient":"bottom","values":[10,20,30,40,50,60,70,80,90,100,110,120,130,140,150,160,170,180,190,200],"labelExpr":"datum.value % 50 == 0 ? datum.value + '' : ''","labelFontSize":22,"tickSize":{"condition":{"test":"datum.value % 50 == 0","value":-16},"value":-9},"labelPadding":21,"title":"pT (GeV/c)","titleFontSize":22,"titleAnchor":"end","titlePadding":15}},
    "y":{"field":"y","type":"quantitative","scale":{"type":"log","domain":[1e-15,0.0018],"nice":false},
      "axis":{"orient":"left","tickCount":20,"labelExpr":"abs(log(datum.value)/LN10 - round(log(datum.value)/LN10)) > 0.01 ? '' : (round(log(datum.value)/LN10) == 0 ? '1' : '10⁻' + (round(log(datum.value)/LN10) <= -10 ? '¹' : '') + ['⁰','¹','²','³','⁴','⁵','⁶','⁷','⁸','⁹'][(-round(log(datum.value)/LN10)) % 10])","labelFontSize":20,"tickSize":{"condition":{"test":"abs(log(datum.value)/LN10 - round(log(datum.value)/LN10)) < 0.01","value":-10},"value":-5},"labelPadding":15,"title":null}},
    "color":{"field":"s","type":"nominal","scale":{"domain":["MB","6-10","16-20","26-30","36-40","51-60","71-80","91-100"],"range":["#000000","#ff0000","#0000ff","#ff00ff","#000000","#ff0000","#0000ff","#ff00ff"]},"legend":null},
    "shape":{"field":"s","type":"nominal","scale":{"domain":["MB","6-10","16-20","26-30","36-40","51-60","71-80","91-100"],"range":["circle","square","triangle-up","M0,-1L0.6,0L0,1L-0.6,0Z","M-0.32,-1H0.32V-0.32H1V0.32H0.32V1H-0.32V0.32H-1V-0.32H-0.32Z","M0,-1L0.225,-0.309L0.951,-0.309L0.363,0.118L0.588,0.809L0,0.382L-0.588,0.809L-0.363,0.118L-0.951,-0.309L-0.225,-0.309Z","triangle-down","M0,-1Q0.12,-0.12 1,0Q0.12,0.12 0,1Q-0.12,0.12 -1,0Q-0.12,-0.12 0,-1Z"]},"legend":null},
    "size":{"condition":{"test":"datum.s === '91-100'","value":300},"value":130},
    "strokeWidth":{"condition":{"test":"datum.s === '36-40'","value":2.2},"value":1.5},
    "fill":{"condition":{"test":"datum.s === '36-40'","value":"white"},"value":"transparent"}
   }},
  {"data":{"name":"lblR"},
   "mark":{"type":"text","fontSize":24,"fontWeight":"bold","font":"Liberation Sans","color":"black","align":"center","baseline":"middle"},
   "encoding":{
    "x":{"field":"x","type":"quantitative","scale":{"type":"linear","domain":[8.4,208.6],"nice":false,"zero":false},
      "axis":{"orient":"top","values":[10,20,30,40,50,60,70,80,90,100,110,120,130,140,150,160,170,180,190,200],"labels":false,"title":null,"tickSize":{"condition":{"test":"datum.value % 50 == 0","value":-16},"value":-9}}},
    "y":{"field":"y","type":"quantitative","scale":{"type":"log","domain":[1e-15,0.0018],"nice":false},
      "axis":{"orient":"right","tickCount":20,"labels":false,"title":null,"tickSize":{"condition":{"test":"abs(log(datum.value)/LN10 - round(log(datum.value)/LN10)) < 0.01","value":-10},"value":-5}}},
    "text":{"field":"t"}
   }}
 ]
}
]
}
